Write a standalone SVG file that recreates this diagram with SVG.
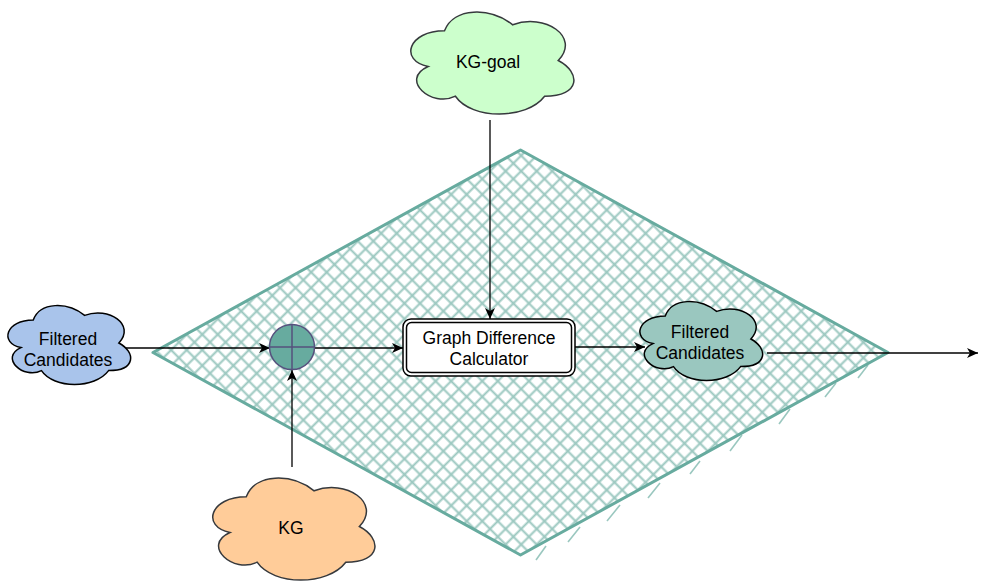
<svg xmlns="http://www.w3.org/2000/svg" width="993" height="588" viewBox="0 0 993 588">
<defs>
<style>
.lbl{font-family:"Liberation Sans",Arial,sans-serif;font-size:17.5px;fill:#000;text-anchor:middle}
.cloud{vector-effect:non-scaling-stroke;stroke-width:1.5}
.edge{fill:none;stroke:#000;stroke-width:1.3}
.stray{stroke:#9AC7BF;stroke-width:1.6;fill:none}
</style>
<pattern id="hatch" patternUnits="userSpaceOnUse" width="11" height="11" patternTransform="rotate(45)">
<path d="M0,5.5 H11 M5.5,0 V11" stroke="#9AC7BF" stroke-width="2" fill="none"/>
</pattern>
<marker id="arr" markerUnits="userSpaceOnUse" markerWidth="14" markerHeight="12" refX="11" refY="5" orient="auto">
<path d="M0,0 L11,5 L0,10 L3,5 Z" fill="#000"/>
</marker>
</defs>
<rect width="993" height="588" fill="#fff"/>

<g id="region">
<polygon points="520.5,150 888,352.5 520.5,555 153,352.5" fill="url(#hatch)" stroke="none"/>
<g class="stray">
<path d="M546,546 L536,560"/><path d="M580,527 L568,542"/><path d="M620,505 L607,521"/><path d="M660,483 L648,498"/><path d="M700,461 L690,474"/><path d="M742,435 L730,451"/><path d="M790,409 L779,424"/><path d="M836,383 L825,397"/><path d="M868,365 L858,378"/>
</g>
<polygon points="520.5,150 888,352.5 520.5,555 153,352.5" fill="none" stroke="#67AB9F" stroke-width="3" stroke-linejoin="round"/>
</g>

<g id="connectors">
<path class="edge" d="M122,348 L270,348" marker-end="url(#arr)"/>
<path class="edge" d="M314,348 L403,348" marker-end="url(#arr)"/>
<path class="edge" d="M575,347 L645,347" marker-end="url(#arr)"/>
<path class="edge" d="M767,353 L978,353" marker-end="url(#arr)"/>
<path class="edge" d="M490,120 L490,319" marker-end="url(#arr)"/>
<path class="edge" d="M292,467 L292,370" marker-end="url(#arr)"/>
</g>

<g id="filtered-in">
<path class="cloud" transform="translate(-1,297) scale(1.37,0.92)" d="M25,25 C5,25 0,50 16,55 C0,66 18,90 31,80 C40,100 70,100 80,80 C100,80 100,60 87.5,50 C100,30 80,10 62.5,20 C50,5 30,5 25,25 Z" fill="#A9C4EB" stroke="#000"/>
<text class="lbl" x="68" y="345">Filtered</text>
<text class="lbl" x="68" y="366">Candidates</text>
</g>

<g id="combine">
<circle cx="292" cy="347" r="22.5" fill="#67AB9F" stroke="#56517E" stroke-width="1.5"/>
<path d="M269.5,347 H314.5 M292,324.5 V369.5" stroke="#56517E" stroke-width="1.5" fill="none"/>
</g>

<g id="calculator">
<rect x="403" y="319" width="172" height="57" rx="8" fill="#fff" stroke="#000" stroke-width="1.5"/>
<rect x="406.5" y="322.5" width="165" height="50" rx="5" fill="none" stroke="#000" stroke-width="1.5"/>
<text class="lbl" x="489" y="344">Graph Difference</text>
<text class="lbl" x="489" y="365">Calculator</text>
</g>

<g id="filtered-out">
<path class="cloud" transform="translate(631,293) scale(1.37,0.92)" d="M25,25 C5,25 0,50 16,55 C0,66 18,90 31,80 C40,100 70,100 80,80 C100,80 100,60 87.5,50 C100,30 80,10 62.5,20 C50,5 30,5 25,25 Z" fill="#9AC7BF" stroke="#000"/>
<text class="lbl" x="700" y="338">Filtered</text>
<text class="lbl" x="700" y="359">Candidates</text>
</g>

<g id="kg-goal">
<path class="cloud" transform="translate(399,1) scale(1.82,1.19)" d="M25,25 C5,25 0,50 16,55 C0,66 18,90 31,80 C40,100 70,100 80,80 C100,80 100,60 87.5,50 C100,30 80,10 62.5,20 C50,5 30,5 25,25 Z" fill="#CCFFCC" stroke="#36393D"/>
<text class="lbl" x="488" y="68">KG-goal</text>
</g>

<g id="kg">
<path class="cloud" transform="translate(201,467) scale(1.81,1.19)" d="M25,25 C5,25 0,50 16,55 C0,66 18,90 31,80 C40,100 70,100 80,80 C100,80 100,60 87.5,50 C100,30 80,10 62.5,20 C50,5 30,5 25,25 Z" fill="#FFCC99" stroke="#36393D"/>
<text class="lbl" x="291" y="534">KG</text>
</g>
</svg>
